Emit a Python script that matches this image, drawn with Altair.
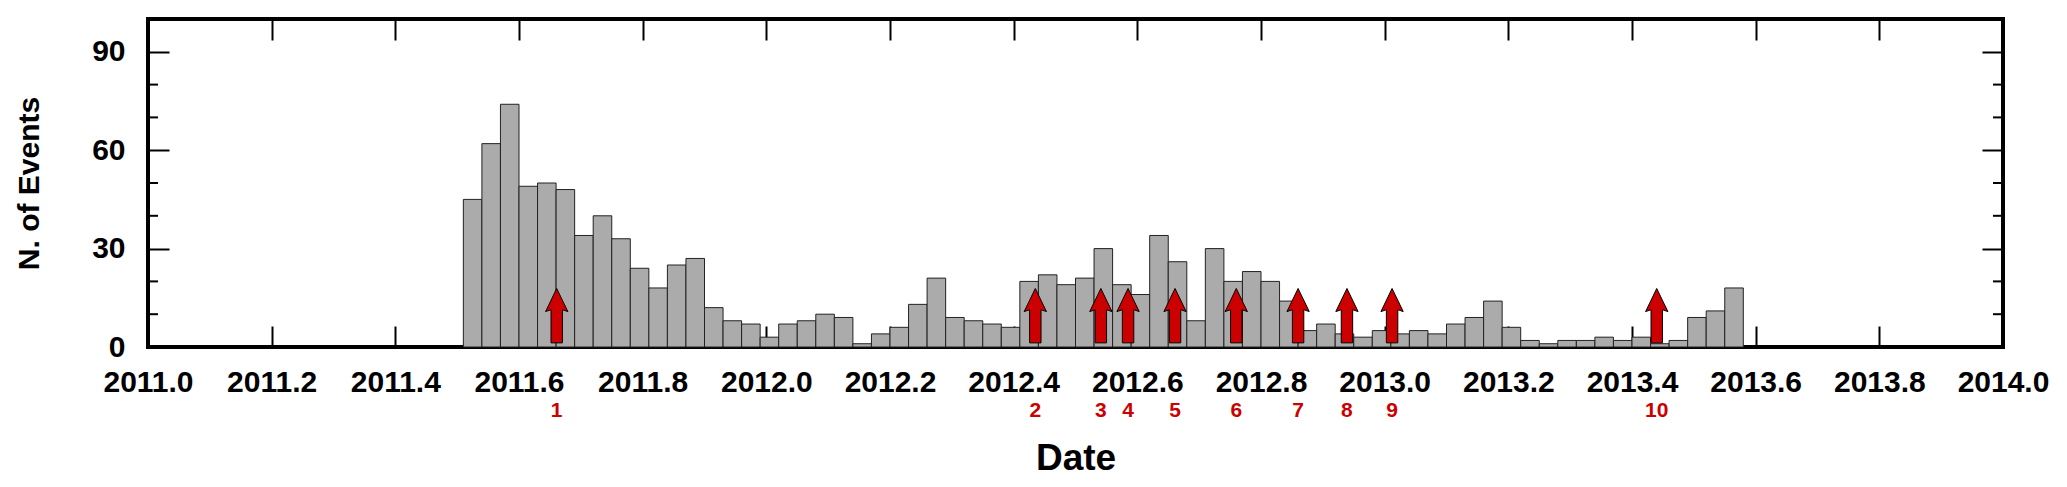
import altair as alt
import pandas as pd

# ---- data ----
BIN_START = 2011.51          # left edge of first bin (decimal year)
BIN_WIDTH = 0.03             # bin width (decimal year)
COUNTS = [45, 62, 74, 49, 50, 48, 34, 40, 33, 24, 18, 25, 27, 12, 8, 7, 3, 7, 8, 10,
          9, 1, 4, 6, 13, 21, 9, 8, 7, 6, 20, 22, 19, 21, 30, 19, 16, 34, 26, 8,
          30, 20, 23, 20, 14, 5, 7, 4, 3, 5, 4, 5, 4, 7, 9, 14, 6, 2, 1, 2,
          2, 3, 2, 3, 1, 2, 9, 11, 18]
ARROW_DATES = [2011.661, 2012.435, 2012.541, 2012.585, 2012.661,
               2012.760, 2012.860, 2012.939, 2013.012, 2013.440]
ARROW_LABELS = ["1", "2", "3", "4", "5", "6", "7", "8", "9", "10"]
X_TICKS = [2011.0, 2011.2, 2011.4, 2011.6, 2011.8, 2012.0, 2012.2, 2012.4,
           2012.6, 2012.8, 2013.0, 2013.2, 2013.4, 2013.6, 2013.8, 2014.0]
Y_MAJOR = [0, 30, 60, 90]
Y_MINOR = [10, 20, 40, 50, 70, 80]
ARROW_MID = 9.55             # vertical centre of the arrows, in data units

# ---- layout / style ----
W, H = 1855, 328
FONT = "Liberation Sans"
RED = "#cc0000"
ARROW_PATH = ("M0,-1 L0.41,-0.15 L0.21,-0.22 L0.21,1 L-0.21,1 "
              "L-0.21,-0.22 L-0.41,-0.15 Z")

bars_df = pd.DataFrame({
    "start": [BIN_START + i * BIN_WIDTH for i in range(len(COUNTS))],
    "count": COUNTS,
})
bars_df["end"] = bars_df["start"] + BIN_WIDTH

arrows_df = pd.DataFrame({"date": ARROW_DATES, "label": ARROW_LABELS})
minor_df = pd.DataFrame({"v": Y_MINOR})

xscale = alt.Scale(domain=[2011.0, 2014.0], nice=False, zero=False)
yscale = alt.Scale(domain=[0, 100], nice=False, zero=False)

bars = alt.Chart(bars_df).mark_bar(
    fill="#ababab", stroke="#222222", strokeWidth=1, opacity=1
).encode(
    x=alt.X("start:Q", scale=xscale,
            axis=alt.Axis(orient="bottom", values=X_TICKS, format=".1f",
                          tickSize=alt.ExprRef(expr="-21"), tickWidth=2,
                          tickColor="black", domain=False, grid=False,
                          labelFont=FONT, labelFontSize=30, labelFontWeight="bold",
                          labelColor="black", labelPadding=41,
                          labelFlush=False, labelOverlap=False, labelBound=False,
                          title="Date", titleFont=FONT, titleFontSize=37,
                          titleFontWeight="bold", titleColor="black",
                          titleX=W / 2, titleY=122.5, titleAlign="center",
                          titleBaseline="alphabetic")),
    x2="end:Q",
    y=alt.Y("count:Q", scale=yscale,
            axis=alt.Axis(orient="left", values=Y_MAJOR,
                          tickSize=alt.ExprRef(expr="-21"), tickWidth=2,
                          tickColor="black", domain=False, grid=False,
                          labelFont=FONT, labelFontSize=30, labelFontWeight="bold",
                          labelColor="black", labelPadding=44,
                          labelFlush=False, labelOverlap=False,
                          title="N. of Events", titleFont=FONT, titleFontSize=30,
                          titleFontWeight="bold", titleColor="black",
                          titleAngle=270, titleX=-119, titleY=H / 2,
                          titleAlign="center", titleBaseline="middle")),
    y2=alt.datum(0),
)

arrows = alt.Chart(arrows_df).mark_point(
    shape=ARROW_PATH, size=2959, filled=True, fill=RED, stroke="black",
    strokeWidth=1, opacity=1
).encode(
    x=alt.X("date:Q", scale=xscale,
            axis=alt.Axis(orient="top", values=X_TICKS, labels=False,
                          tickSize=alt.ExprRef(expr="-21"), tickWidth=2,
                          tickColor="black", domain=False, grid=False, title=None)),
    y=alt.YDatum(ARROW_MID, scale=yscale,
                 axis=alt.Axis(orient="right", values=Y_MAJOR, labels=False,
                               tickSize=alt.ExprRef(expr="-21"), tickWidth=2,
                               tickColor="black", domain=False, grid=False,
                               title=None)),
)

labels = alt.Chart(arrows_df).mark_text(
    color=RED, font=FONT, fontSize=21, fontWeight="bold",
    align="center", baseline="middle"
).encode(
    x=alt.X("date:Q", scale=xscale, axis=None),
    y=alt.value(392),
    text="label:N",
)

minor_left = alt.Chart(minor_df).mark_rule(color="black", strokeWidth=2).encode(
    y=alt.Y("v:Q", scale=yscale, axis=None),
    x=alt.value(0), x2=alt.value(10),
)
minor_right = alt.Chart(minor_df).mark_rule(color="black", strokeWidth=2).encode(
    y=alt.Y("v:Q", scale=yscale, axis=None),
    x=alt.value(W - 10), x2=alt.value(W),
)

chart = alt.layer(bars, minor_left, minor_right, arrows, labels).resolve_axis(
    x="independent", y="independent"
).properties(
    width=W, height=H,
    autosize=alt.AutoSizeParams(type="none"),
    padding={"left": 140, "top": 11, "right": 50, "bottom": 136},
    background="white",
).configure_view(
    stroke="black", strokeWidth=4
)

chart.save("out.html", embed_options={"renderer": "svg", "actions": False})
